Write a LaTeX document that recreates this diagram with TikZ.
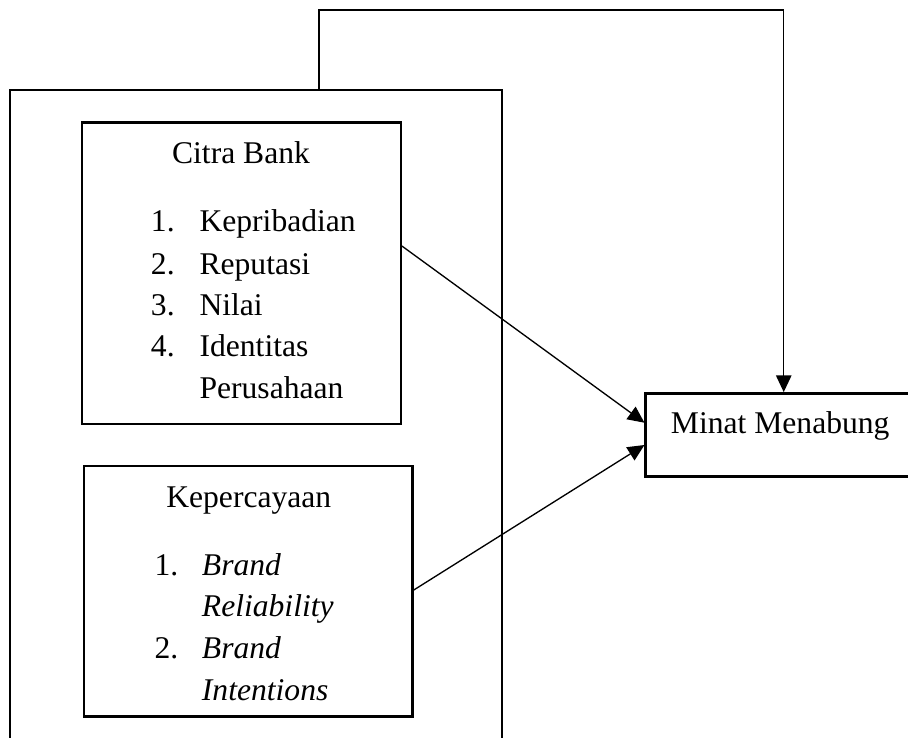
\documentclass[tikz,border=0pt]{standalone}
\usepackage{fontspec}
\setmainfont{Liberation Serif}
\usetikzlibrary{arrows.meta}
\begin{document}
\begin{tikzpicture}[x=0.75pt,y=-0.75pt,
  box/.style={draw,line width=1.8pt,rectangle,inner sep=0pt},
  txt/.style={inner sep=0pt,font=\fontsize{23.7}{28}\selectfont},
  conn/.style={line width=1pt,-{Triangle[length=12.5pt,width=11.5pt]}},
  plain/.style={line width=1pt}]
\clip (0,0) rectangle (908,738);
% boxes
\node[box,minimum width=369pt,minimum height=502.5pt] (outer) at (255.7,425) {};
\node[box,minimum width=239.25pt,minimum height=226pt] (citra) at (241.2,273.35) {};
\node[box,minimum width=246.4pt,minimum height=187.9pt] (kep) at (248.25,591.25) {};
\node[box,minimum width=201.5pt,minimum height=62.5pt] (minat) at (780,435) {};
% texts Citra Bank
\node[txt,anchor=base] (ct) at (241,163.3) {Citra Bank};
\node[txt,anchor=base west] (c1n) at (150.7,231.7) {1.};
\node[txt,anchor=base west] (c1) at (199.3,231.7) {Kepribadian};
\node[txt,anchor=base west] (c2n) at (150.7,274.5) {2.};
\node[txt,anchor=base west] (c2) at (199.3,274.5) {Reputasi};
\node[txt,anchor=base west] (c3n) at (150.7,315.5) {3.};
\node[txt,anchor=base west] (c3) at (199.3,315.5) {Nilai};
\node[txt,anchor=base west] (c4n) at (150.7,356.7) {4.};
\node[txt,anchor=base west] (c4) at (199.3,356.7) {Identitas};
\node[txt,anchor=base west] (c5) at (199.3,398.3) {Perusahaan};
% texts Kepercayaan
\node[txt,anchor=base] (kt) at (248.8,507) {Kepercayaan};
\node[txt,anchor=base west] (k1n) at (154.3,575) {1.};
\node[txt,anchor=base west] (k1) at (201.7,575) {\itshape Brand};
\node[txt,anchor=base west] (k1b) at (201.7,616.7) {\itshape Reliability};
\node[txt,anchor=base west] (k2n) at (154.3,658) {2.};
\node[txt,anchor=base west] (k2) at (201.7,658) {\itshape Brand};
\node[txt,anchor=base west] (k2b) at (201.7,700) {\itshape Intentions};
% Minat
\node[txt,anchor=base west] (mt) at (670.7,433.3) {Minat Menabung};
% connectors
\coordinate (topy) at (550,10);
\draw[conn] ([yshift=20.5pt]citra.east) -- ([yshift=9.2pt]minat.west);
\draw[conn] ([yshift=0.9pt]kep.east) -- ([yshift=-7.5pt]minat.west);
\draw[conn] ([xshift=47.5pt]outer.north) |- (topy) -| ([xshift=2.8pt]minat.north);
\end{tikzpicture}
\end{document}
